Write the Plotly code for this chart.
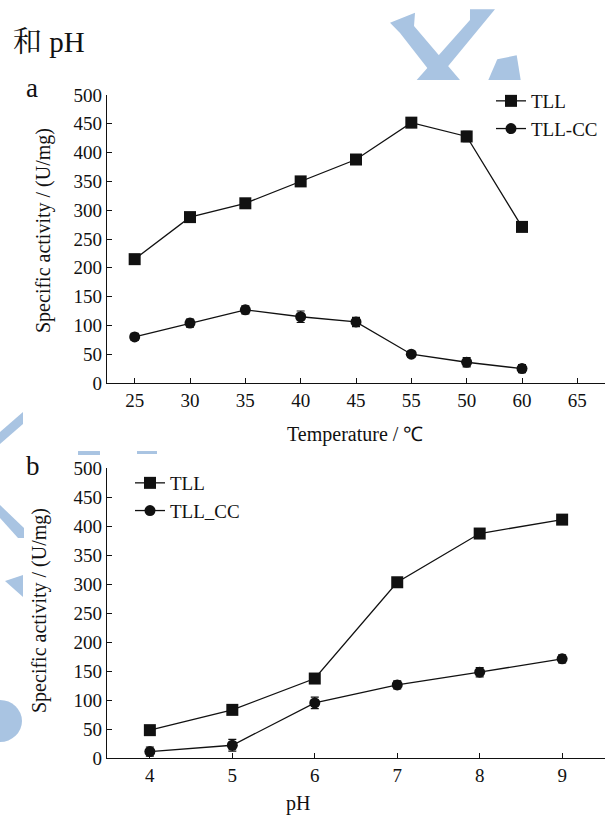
import plotly.graph_objects as go

# ---------------- data ----------------
temp_labels = ["25", "30", "35", "40", "45", "55", "50", "60", "65"]
temp_points = ["25", "30", "35", "40", "45", "55", "50", "60"]
tll_temp = [215, 288, 312, 350, 388, 452, 428, 271]
tll_temp_err = [7, 8, 6, 5, 5, 6, 9, 7]
cc_temp = [80, 104, 127, 115, 106, 50, 36, 25]
cc_temp_err = [6, 7, 7, 10, 8, 5, 8, 7]

ph_values = [4, 5, 6, 7, 8, 9]
tll_ph = [48, 83, 137, 303, 387, 411]
tll_ph_err = [5, 5, 8, 5, 7, 8]
cc_ph = [11, 22, 95, 126, 148, 171]
cc_ph_err = [8, 10, 10, 7, 8, 7]

# ---------------- layout helpers ----------------
W, H = 605, 818
ML, MR, MT, MB = 107, 0, 95, 60
PW, PH = W - ML - MR, H - MT - MB


def px(x):
    return (x - ML) / PW


def py(y):
    return (H - MB - y) / PH


FONT = '"Liberation Serif", "Times New Roman", serif'
BLACK = "#111111"

temp_x = [temp_labels.index(t) for t in temp_points]

fig = go.Figure()


def add_series(x, y, err, name, symbol, size, xa, ya, legend):
    fig.add_trace(go.Scatter(
        x=x, y=y, name=name, mode="lines+markers",
        xaxis=xa, yaxis=ya, legend=legend,
        line=dict(color=BLACK, width=1.3),
        marker=dict(symbol=symbol, size=size, color=BLACK),
        error_y=dict(type="data", array=err, width=4, thickness=1.2, color=BLACK),
        cliponaxis=False,
    ))


add_series(temp_x, tll_temp, tll_temp_err, "TLL", "square", 12, "x", "y", "legend")
add_series(temp_x, cc_temp, cc_temp_err, "TLL-CC", "circle", 11, "x", "y", "legend")
add_series(ph_values, tll_ph, tll_ph_err, "TLL", "square", 12, "x2", "y2", "legend2")
add_series(ph_values, cc_ph, cc_ph_err, "TLL_CC", "circle", 11, "x2", "y2", "legend2")

axis_common = dict(
    showline=True, linecolor=BLACK, linewidth=1.3, ticks="inside", ticklen=5,
    tickwidth=1.2, tickcolor=BLACK, showgrid=False, zeroline=False,
    tickfont=dict(family=FONT, size=19, color=BLACK),
)

y_a_top, y_a_bot = 95, 383
y_b_top, y_b_bot = 468, 758

fig.update_layout(
    width=W, height=H,
    margin=dict(l=ML, r=MR, t=MT, b=MB),
    paper_bgcolor="white", plot_bgcolor="rgba(0,0,0,0)",
    font=dict(family=FONT, size=19, color=BLACK),
    xaxis=dict(axis_common, domain=[0, 1], anchor="y", range=[-0.5, 8.5],
               tickmode="array", tickvals=list(range(len(temp_labels))), ticktext=temp_labels),
    yaxis=dict(axis_common, domain=[py(y_a_bot), py(y_a_top)], anchor="x",
               range=[0, 500], dtick=50),
    xaxis2=dict(axis_common, domain=[0, 1], anchor="y2", range=[3.48, 9.52], dtick=1),
    yaxis2=dict(axis_common, domain=[py(y_b_bot), py(y_b_top)], anchor="x2",
                range=[0, 500], dtick=50),
    legend=dict(x=px(491), y=py(82), xanchor="left", yanchor="top",
                bgcolor="rgba(0,0,0,0)", font=dict(family=FONT, size=19, color=BLACK),
                itemwidth=30, tracegroupgap=0),
    legend2=dict(x=px(130), y=py(464), xanchor="left", yanchor="top",
                 bgcolor="rgba(0,0,0,0)", font=dict(family=FONT, size=19, color=BLACK),
                 itemwidth=30, tracegroupgap=0),
    showlegend=True,
)


def ann(text, x, y, size, xanchor="center", angle=0, family=FONT):
    fig.add_annotation(text=text, x=px(x), y=py(y), xref="paper", yref="paper",
                       showarrow=False, xanchor=xanchor, yanchor="middle",
                       textangle=angle, font=dict(family=family, size=size, color=BLACK))


ann("和 pH", 11, 42, 29, xanchor="left",
    family='"Liberation Serif", "Noto Serif CJK SC", "Noto Sans CJK SC", serif')
ann("a", 32, 88, 27)
ann("b", 33, 466, 27)
ann("Specific activity / (U/mg)", 43, 231, 20, angle=-90)
ann("Specific activity / (U/mg)", 39, 611, 20, angle=-90)
ann("Temperature / ℃", 355, 434, 20)
ann("pH", 298, 803, 20)

# faint watermark shapes (background decoration)
WM = "#a9c4e2"
polys = [
    [(390, 22.7), (415, 12.7), (414, 26), (460, 80), (436.7, 80), (400, 33)],
    [(470, 9.3), (495, 9.3), (436.7, 80), (416.7, 80), (470, 20)],
    [(497.3, 59.3), (516.7, 55.3), (520.7, 80), (488.3, 80)],
    [(23, 412), (23, 424), (0, 444), (0, 432)],
    [(0, 505), (0, 518), (18, 538), (24, 538), (24, 528)],
    [(5, 581), (23, 575), (23, 597)],
    [(78, 451), (100, 451), (100, 455), (78, 455)],
    [(137, 451), (157, 451), (157, 454), (137, 454)],
]
for p in polys:
    path = "M " + " L ".join(f"{px(a):.4f},{py(b):.4f}" for a, b in p) + " Z"
    fig.add_shape(type="path", path=path, xref="paper", yref="paper",
                  fillcolor=WM, line=dict(width=0), layer="below")
fig.add_shape(type="circle", xref="paper", yref="paper",
              x0=px(-22), x1=px(22), y0=py(742), y1=py(700),
              fillcolor=WM, line=dict(width=0), layer="below")

fig.write_html("out.html")
